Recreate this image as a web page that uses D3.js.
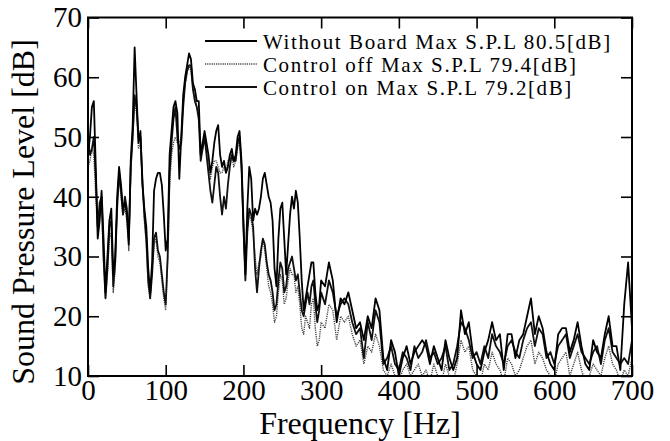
<!DOCTYPE html>
<html>
<head>
<meta charset="utf-8">
<title>Sound Pressure Level</title>
<script src="https://d3js.org/d3.v7.min.js"></script>
<style>
  body { margin: 0; background: #fff; }
  text { font-family: "Liberation Serif", "Times New Roman", serif; fill: #000; }
</style>
</head>
<body>
<script>
// frequency samples [Hz]
const freq = [
  0, 2.5, 5, 7.5, 10, 12.5, 15, 17.5, 20, 22.5, 25, 27.5, 30, 32.5, 35, 37.5, 40, 42.5, 45, 47.5,
  50, 52.5, 55, 57.5, 60, 62.5, 65, 67.5, 70, 72.5, 75, 77.5, 80, 82.5, 85, 87.5, 90, 92.5, 95, 97.5,
  100, 102.5, 105, 107.5, 110, 112.5, 115, 117.5, 120, 122.5, 125, 127.5, 130, 132.5, 135, 137.5, 140, 142.5, 145, 147.5,
  150, 152.5, 155, 157.5, 160, 162.5, 165, 167.5, 170, 172.5, 175, 177.5, 180, 182.5, 185, 187.5, 190, 192.5, 195, 197.5,
  200, 202.5, 205, 207.5, 210, 212.5, 215, 217.5, 220, 222.5, 225, 227.5, 230, 232.5, 235, 237.5, 240, 242.5, 245, 247.5,
  250, 252.5, 255, 257.5, 260, 262.5, 265, 267.5, 270, 272.5, 275, 277.5, 280, 282.5, 285, 287.5, 290, 292.5, 295, 297.5,
  300, 305, 310, 315, 320, 325, 330, 335, 340, 345, 350, 355, 360, 365, 370, 375, 380, 385, 390, 395,
  400, 405, 410, 415, 420, 425, 430, 435, 440, 445, 450, 455, 460, 465, 470, 475, 480, 485, 490, 495,
  500, 505, 510, 515, 520, 525, 530, 535, 540, 545, 550, 555, 560, 565, 570, 575, 580, 585, 590, 595,
  600, 605, 610, 615, 620, 625, 630, 635, 640, 645, 650, 655, 660, 665, 670, 675, 680, 685, 690, 695,
  700
];

// Without Board
const withoutBoard = [
  47, 50, 55, 56, 45, 33, 36, 41, 33, 24, 30, 36, 38, 27, 30, 40, 45, 42, 38, 39,
  37, 32, 46, 52, 65, 57, 49, 51, 42, 38, 35, 28, 24, 29, 41, 43, 44, 44, 42, 37,
  31, 33, 47, 51, 55, 56, 54, 43, 50, 57, 60, 62, 64, 63, 59, 58, 56, 56, 47, 49,
  51, 49, 47, 44, 46, 49, 51, 52, 47, 45, 46, 44, 45, 47, 48, 46, 47, 50, 51, 46,
  36, 27, 38, 45, 43, 36, 38, 37, 38, 40, 43, 44, 42, 40, 39, 36, 28, 25, 33, 38,
  39, 33, 27, 32, 37, 40, 38, 41, 39, 33, 26, 21, 23, 25, 27, 29, 29, 24, 21, 22,
  26, 25, 29, 26, 19, 23, 22, 24, 21, 18, 19, 16, 20, 18, 23, 21, 13, 11, 16, 14,
  10, 13, 15, 12, 14, 15, 16, 15, 12, 15, 13, 11, 16, 13, 11, 13, 21, 17, 19, 14,
  12, 11, 14, 16, 19, 16, 17, 11, 17, 17, 13, 16, 17, 20, 23, 17, 20, 18, 14, 12,
  11, 17, 18, 18, 14, 16, 19, 15, 12, 11, 16, 14, 13, 17, 20, 15, 15, 11, 22, 29,
  18
];

// Control off
const controlOff = [
  45, 46, 48, 47, 40, 34, 37, 39, 29, 23, 27, 33, 34, 24, 28, 39, 43, 40, 37, 38,
  36, 31, 44, 50, 56, 54, 48, 49, 42, 36, 32, 25, 23, 28, 32, 33, 30, 29, 26, 23,
  21, 29, 42, 47, 49, 50, 49, 49, 50, 56, 59, 61, 62, 61, 58, 57, 55, 54, 47, 48,
  50, 48, 45, 43, 45, 46, 46, 45, 44, 44, 45, 44, 46, 46, 47, 45, 46, 48, 50, 45,
  34, 28, 35, 37, 36, 34, 30, 27, 29, 30, 33, 31, 28, 25, 24, 22, 19, 20, 24, 27,
  26, 22, 23, 26, 28, 27, 27, 24, 25, 22, 18, 17, 20, 19, 18, 22, 23, 18, 15, 16,
  19, 18, 22, 21, 16, 20, 19, 20, 17, 15, 16, 12, 15, 14, 17, 15, 11, 10, 12, 10,
  9, 11, 12, 10, 11, 12, 10, 11, 9, 12, 10, 9, 12, 10, 9, 12, 16, 14, 15, 11,
  10, 9, 12, 11, 14, 12, 11, 9, 13, 12, 10, 11, 13, 15, 16, 12, 14, 13, 11, 10,
  9, 12, 13, 14, 10, 12, 14, 11, 9, 10, 12, 11, 10, 13, 15, 12, 11, 9, 11, 10,
  13
];

// Control on
const controlOn = [
  50, 47, 48, 50, 43, 35, 39, 40, 30, 23, 28, 35, 36, 25, 29, 38, 44, 41, 37, 40,
  38, 33, 45, 50, 57, 55, 50, 50, 43, 37, 33, 26, 23, 27, 33, 34, 31, 30, 27, 24,
  22, 30, 44, 49, 53, 55, 50, 48, 49, 55, 59, 61, 62, 62, 58, 56, 55, 53, 46, 48,
  50, 47, 44, 41, 39, 42, 45, 44, 40, 37, 40, 38, 42, 45, 47, 46, 46, 49, 50, 45,
  35, 26, 34, 38, 37, 35, 28, 24, 28, 31, 33, 32, 29, 27, 26, 24, 21, 22, 26, 29,
  28, 24, 25, 28, 29, 30, 28, 26, 27, 24, 21, 20, 22, 24, 22, 25, 26, 22, 19, 21,
  24, 22, 26, 24, 20, 22, 23, 22, 19, 17, 18, 13, 19, 16, 21, 19, 12, 13, 15, 12,
  11, 14, 13, 11, 15, 13, 14, 16, 13, 14, 12, 13, 15, 11, 12, 15, 19, 18, 16, 13,
  14, 12, 15, 13, 17, 15, 14, 12, 15, 16, 14, 13, 16, 18, 19, 15, 18, 17, 13, 14,
  12, 15, 16, 17, 13, 15, 17, 14, 13, 12, 14, 15, 12, 16, 18, 14, 13, 12, 13, 12,
  16
];

const legendLabels = [
  "Without Board Max S.P.L 80.5[dB]",
  "Control off Max S.P.L 79.4[dB]",
  "Control on Max S.P.L 79.2[dB]"
];
const xTicks = [0, 100, 200, 300, 400, 500, 600, 700];
const yTicks = [10, 20, 30, 40, 50, 60, 70];

const W = 670, H = 441;
const margin = {top: 17.5, right: 38, bottom: 65, left: 88};
const width = W - margin.left - margin.right,
      height = H - margin.top - margin.bottom;

const svg = d3.select("body")
  .append("svg")
    .attr("width", W)
    .attr("height", H);

const g = svg.append("g")
    .attr("transform", `translate(${margin.left},${margin.top})`);

const x = d3.scaleLinear().domain([0, 700]).range([0, width]);
const y = d3.scaleLinear().domain([10, 70]).range([height, 0]);

g.append("clipPath").attr("id", "plot")
  .append("rect").attr("width", width).attr("height", height);

const series = [
  {vals: withoutBoard, dash: null, color: "#000", w: 1.8},
  {vals: controlOff, dash: "1.2,1", color: "#444", w: 1.4},
  {vals: controlOn, dash: null, color: "#111", w: 1.8}
];

const line = d3.line()
  .x((d, i) => x(freq[i]))
  .y(d => y(d));

// draw the dotted one first, solid ones on top
[1, 2, 0].forEach(k => {
  const s = series[k];
  g.append("path")
    .attr("clip-path", "url(#plot)")
    .attr("d", line(s.vals))
    .attr("fill", "none")
    .attr("stroke", s.color)
    .attr("stroke-width", s.w)
    .attr("stroke-dasharray", s.dash)
    .attr("stroke-linejoin", "round");
});

// axes, ticks inward
const tick = 11;
const styleAxis = sel => {
  sel.select(".domain").remove();
  sel.selectAll(".tick line").attr("stroke", "#000").attr("stroke-width", 1.6);
  sel.selectAll("text").style("font-family", "Liberation Serif").style("font-size", "29px");
};

g.append("g")
  .attr("transform", `translate(0,${height})`)
  .call(d3.axisBottom(x).tickValues(xTicks).tickSizeInner(-tick).tickSizeOuter(0).tickPadding(3))
  .call(styleAxis);
g.append("g")
  .call(d3.axisTop(x).tickValues(xTicks).tickSizeInner(-tick).tickSizeOuter(0).tickFormat(""))
  .call(styleAxis);
g.append("g")
  .call(d3.axisLeft(y).tickValues(yTicks).tickSizeInner(-tick).tickSizeOuter(0).tickPadding(6))
  .call(styleAxis);
g.append("g")
  .attr("transform", `translate(${width},0)`)
  .call(d3.axisRight(y).tickValues(yTicks).tickSizeInner(-tick).tickSizeOuter(0).tickFormat(""))
  .call(styleAxis);

g.append("rect")
  .attr("width", width).attr("height", height)
  .attr("fill", "none").attr("stroke", "#000").attr("stroke-width", 2);

// legend
const legend = g.append("g").attr("transform", "translate(117,23.5)");
legendLabels.forEach((lab, i) => {
  const s = series[i];
  const row = legend.append("g").attr("transform", `translate(0,${i * 23})`);
  row.append("line")
    .attr("x1", 0).attr("x2", 52).attr("y1", 0).attr("y2", 0)
    .attr("stroke", s.color).attr("stroke-width", i === 1 ? 1.4 : 2)
    .attr("stroke-dasharray", s.dash);
  row.append("text")
    .attr("x", 58).attr("y", 7.5)
    .style("font-size", "21px")
    .style("letter-spacing", "1.6px")
    .text(lab);
});

// axis titles
svg.append("text")
  .attr("x", margin.left + width / 2).attr("y", 434)
  .attr("text-anchor", "middle")
  .style("font-size", "32px")
  .text("Frequency [Hz]");

svg.append("text")
  .attr("transform", "translate(34,212) rotate(-90)")
  .attr("text-anchor", "middle")
  .style("font-size", "32px")
  .text("Sound Pressure Level [dB]");
</script>
</body>
</html>
